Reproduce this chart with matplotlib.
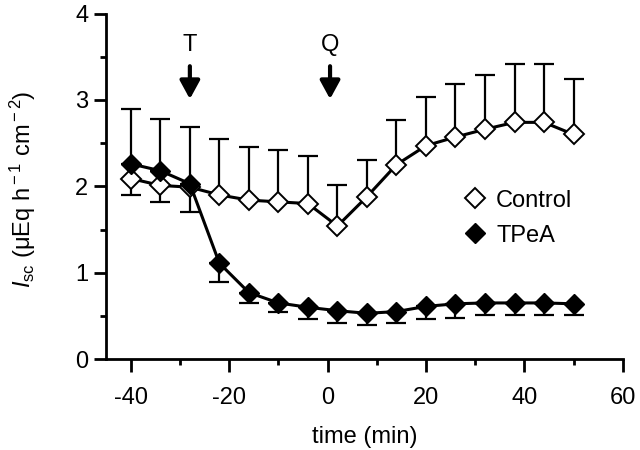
import matplotlib
matplotlib.use("Agg")
import matplotlib.pyplot as plt
from matplotlib.ticker import MultipleLocator

plt.rcParams["font.family"] = ["Liberation Sans", "DejaVu Sans"]
plt.rcParams["mathtext.fontset"] = "custom"
plt.rcParams["mathtext.rm"] = "Liberation Sans"
plt.rcParams["mathtext.it"] = "Liberation Sans:italic"
plt.rcParams["axes.unicode_minus"] = False

# zaman noktaları (dk)
time = [-40, -34, -28, -22, -16, -10, -4, 2, 8, 14, 20, 26, 32, 38, 44, 50]

control = [2.09, 2.01, 1.99, 1.90, 1.84, 1.82, 1.80, 1.54,
           1.88, 2.25, 2.47, 2.57, 2.66, 2.74, 2.74, 2.60]
control_err = [0.80, 0.77, 0.70, 0.65, 0.62, 0.60, 0.55, 0.47,
               0.43, 0.52, 0.56, 0.61, 0.63, 0.67, 0.67, 0.64]

tpea = [2.26, 2.18, 2.03, 1.11, 0.77, 0.65, 0.60, 0.56,
        0.53, 0.55, 0.61, 0.64, 0.65, 0.65, 0.65, 0.64]
tpea_err = [0.36, 0.36, 0.33, 0.22, 0.12, 0.11, 0.14, 0.14,
            0.13, 0.13, 0.15, 0.16, 0.14, 0.14, 0.14, 0.13]

arrows = {"T": -28, "Q": 0.5}

fig = plt.figure(figsize=(6.4, 4.5), dpi=100)
ax = fig.add_axes([0.166, 0.202, 0.807, 0.768])

# Control: yukarı hata çubukları
ax.errorbar(time, control, yerr=[[0] * len(control), control_err],
            fmt="none", ecolor="black", elinewidth=1.6, capsize=7, capthick=1.6, zorder=2)
ax.plot(time, control, color="black", lw=2.2, marker="D", ms=10,
        mfc="white", mec="black", mew=1.4, label="Control", zorder=3)

# TPeA: aşağı hata çubukları
ax.errorbar(time, tpea, yerr=[tpea_err, [0] * len(tpea)],
            fmt="none", ecolor="black", elinewidth=1.6, capsize=7, capthick=1.6, zorder=2)
ax.plot(time, tpea, color="black", lw=2.2, marker="D", ms=10,
        mfc="black", mec="black", label="TPeA", zorder=4)

for name, xpos in arrows.items():
    ax.annotate("", xy=(xpos, 3.01), xytext=(xpos, 3.39),
                arrowprops=dict(arrowstyle="-|>,head_length=0.55,head_width=0.3",
                                color="black", lw=3, mutation_scale=20,
                                shrinkA=0, shrinkB=0))
    ax.text(xpos, 3.63, name, ha="center", va="center", fontsize=17)

ax.set_xlim(-45, 60)
ax.set_ylim(0, 4)
ax.xaxis.set_major_locator(MultipleLocator(20))
ax.xaxis.set_minor_locator(MultipleLocator(10))
ax.yaxis.set_major_locator(MultipleLocator(1))
ax.yaxis.set_minor_locator(MultipleLocator(0.5))
ax.spines["top"].set_visible(False)
ax.spines["right"].set_visible(False)
for s in ("left", "bottom"):
    ax.spines[s].set_linewidth(2)
ax.tick_params(which="both", direction="out", width=2, labelsize=17)
ax.tick_params(which="major", length=9)
ax.tick_params(which="minor", length=4.5)
ax.tick_params(axis="x", which="major", pad=11)
ax.tick_params(axis="y", which="major", pad=4)

ax.set_xlabel("time (min)", fontsize=17, labelpad=12)
ax.set_ylabel(r"$I_{\rm sc}$ ($\rm\mu$Eq h$^{\rm -1}$ cm$^{\rm -2}$)", fontsize=17)
ax.yaxis.set_label_coords(-0.132, 0.49)

ax.legend(loc="upper left", bbox_to_anchor=(0.70, 0.49), frameon=False,
          fontsize=17, handlelength=0.6, handletextpad=0.6, labelspacing=0.55,
          borderaxespad=0, borderpad=0)

fig.savefig("out.png", dpi=100, facecolor="white")
